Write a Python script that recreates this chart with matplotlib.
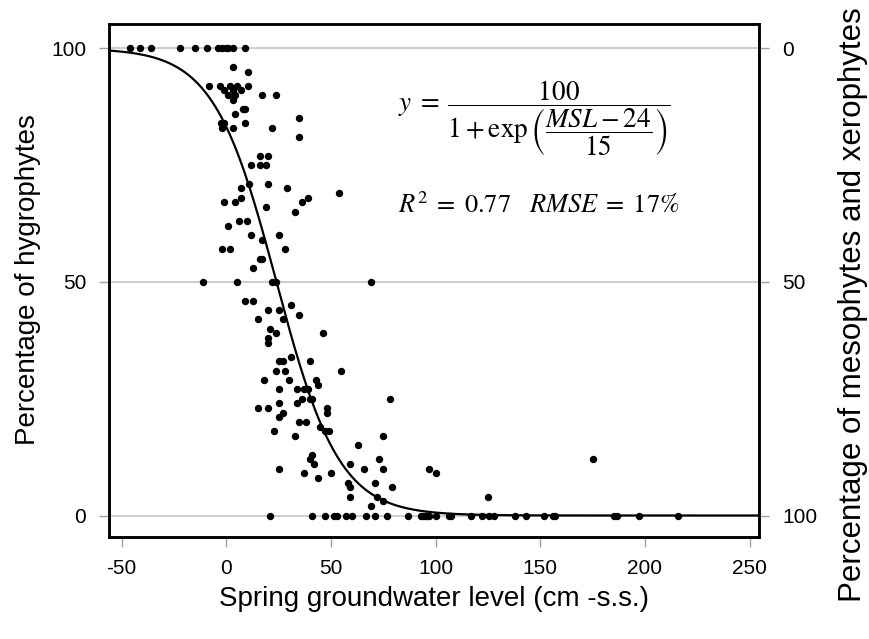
import numpy as np
import matplotlib
matplotlib.use("Agg")
import matplotlib.pyplot as plt

plt.rcParams['font.family'] = ['Liberation Sans', 'DejaVu Sans']
plt.rcParams['axes.unicode_minus'] = False

# fitted logistic model shown on the chart
msl_mid = 24
msl_scale = 15

# spring groundwater level (cm below surface) and % hygrophytes
msl = [-46, -41, -36, -22, -15, -9, -4, -2, 0, 1, 3, 9,
       3, 10.5, -8, -3, 2, 5, 10.5, -1, 3, 7, 1, 4, 3, 17, 24, 8, 9, 4, 9, -2.5, -1, -2, 3, 22,
       16, 20, 12, 16, 19, 11, 20, 7, 7, -1, 4, 19, 6, 10, 1, 12, 17, 25, -2, 2, 16, 17, 13,
       -11, 5, 22, 24,
       9, 13, 20, 25, 15, 21, 24, 20, 20, 25, 24, 18, 25, 15, 20, 25, 25, 23, 25, 21,
       35, 35, 29, 39, 36, 33, 54, 28, 69,
       31, 27, 35, 46, 31, 27, 40, 28, 55, 30, 43, 44, 34, 37, 39, 40, 41, 36, 34, 27,
       48, 48, 78, 35, 38, 45, 47, 49, 33, 75, 63, 41, 40, 42, 59, 73, 37, 50, 66, 75,
       44, 58, 59, 71, 79, 59, 72, 75, 69,
       41, 47, 51.6, 53, 57, 60, 67, 71, 77,
       97, 100, 125, 175,
       87, 93, 94, 95, 96, 97, 100, 106.5, 107.6, 117, 122, 125.6, 128, 138, 143,
       152, 156, 157, 185, 186.6, 197, 216]
hygro = [100, 100, 100, 100, 100, 100, 100, 100, 100, 100, 100, 100,
         96, 95, 92, 92, 92, 92, 92, 91, 91, 91, 90, 90, 89, 90, 90, 87, 87, 86, 84, 84, 84, 83, 83, 83,
         77, 77, 75, 75, 75, 71, 71, 70, 68, 67, 67, 66, 63, 63, 62, 60, 59, 60, 57, 57, 55, 55, 53,
         50, 50, 50, 50,
         46, 46, 44, 44, 42, 40, 39, 38, 37, 33, 31, 29, 27, 23, 23, 24, 21, 18, 10, 0,
         85, 81, 70, 68, 67, 65, 69, 57, 50,
         45, 42, 43, 39, 34, 33, 33, 31, 31, 29, 29, 28, 27, 27, 27, 25, 25, 25, 24, 22,
         23, 22, 25, 20, 20, 19, 18, 18, 17, 17, 15, 13, 12, 11, 11, 12, 9, 9, 10, 10,
         8, 7, 6, 7, 6, 4, 4, 3, 2,
         0, 0, 0, 0, 0, 0, 0, 0, 0,
         10, 9, 4, 12,
         0, 0, 0, 0, 0, 0, 0, 0, 0, 0, 0, 0, 0, 0, 0,
         0, 0, 0, 0, 0, 0, 0]

x_ticks = [-50, 0, 50, 100, 150, 200, 250]
y_ticks = [0, 50, 100]
y_right_labels = ['100', '50', '0']

fig = plt.figure(figsize=(8.7, 6.39), dpi=100)
ax = fig.add_axes([109 / 870, 1 - 537 / 639, 650 / 870, 513 / 639])
ax.set_xlim(-56, 254.5)
ax.set_ylim(-4.6, 105.2)

for yv in y_ticks:
    ax.axhline(yv, color='#c0c0c0', lw=1.1, zorder=1)

xc = np.linspace(-56, 254.5, 400)
ax.plot(xc, 100 / (1 + np.exp((xc - msl_mid) / msl_scale)), color='black', lw=1.6, zorder=3)
ax.plot(msl, hygro, 'o', color='black', ms=4.3, zorder=4)

ax.set_xticks(x_ticks)
ax.set_yticks(y_ticks)
ax.tick_params(direction='out', length=7.5, width=1, color='#a0a0a0', labelsize=15, pad=8)
ax.tick_params(axis='y', pad=9)
for s in ax.spines.values():
    s.set_linewidth(1.8)

ax2 = ax.twinx()
ax2.set_ylim(ax.get_ylim())
ax2.set_yticks(y_ticks)
ax2.set_yticklabels(y_right_labels)
ax2.tick_params(direction='out', length=7.5, width=1, color='#a0a0a0', labelsize=15, pad=9)
for s in ax2.spines.values():
    s.set_linewidth(1.8)

fig.text(434 / 870, 1 - 599 / 639, 'Spring groundwater level (cm -s.s.)',
         ha='center', va='center', fontsize=20)
fig.text(28 / 870, 1 - 280 / 639, 'Percentage of hygrophytes',
         ha='center', va='center', rotation=90, fontsize=20)
fig.text(853 / 870, 1 - 305 / 639, 'Percentage of mesophytes and xerophytes',
         ha='center', va='center', rotation=90, fontsize=22.5)

fig.text(398 / 870, 1 - 118 / 639,
         r'$y\;=\;\dfrac{100}{1+\exp\left(\dfrac{MSL - 24}{15}\right)}$',
         ha='left', va='center', fontsize=19.5, math_fontfamily='stix')
fig.text(398 / 870, 1 - 205 / 639, r'$R^2\;=\;0.77\quad RMSE\;=\;17\%$',
         ha='left', va='center', fontsize=19, math_fontfamily='stix')

fig.savefig('out.png', dpi=100)
